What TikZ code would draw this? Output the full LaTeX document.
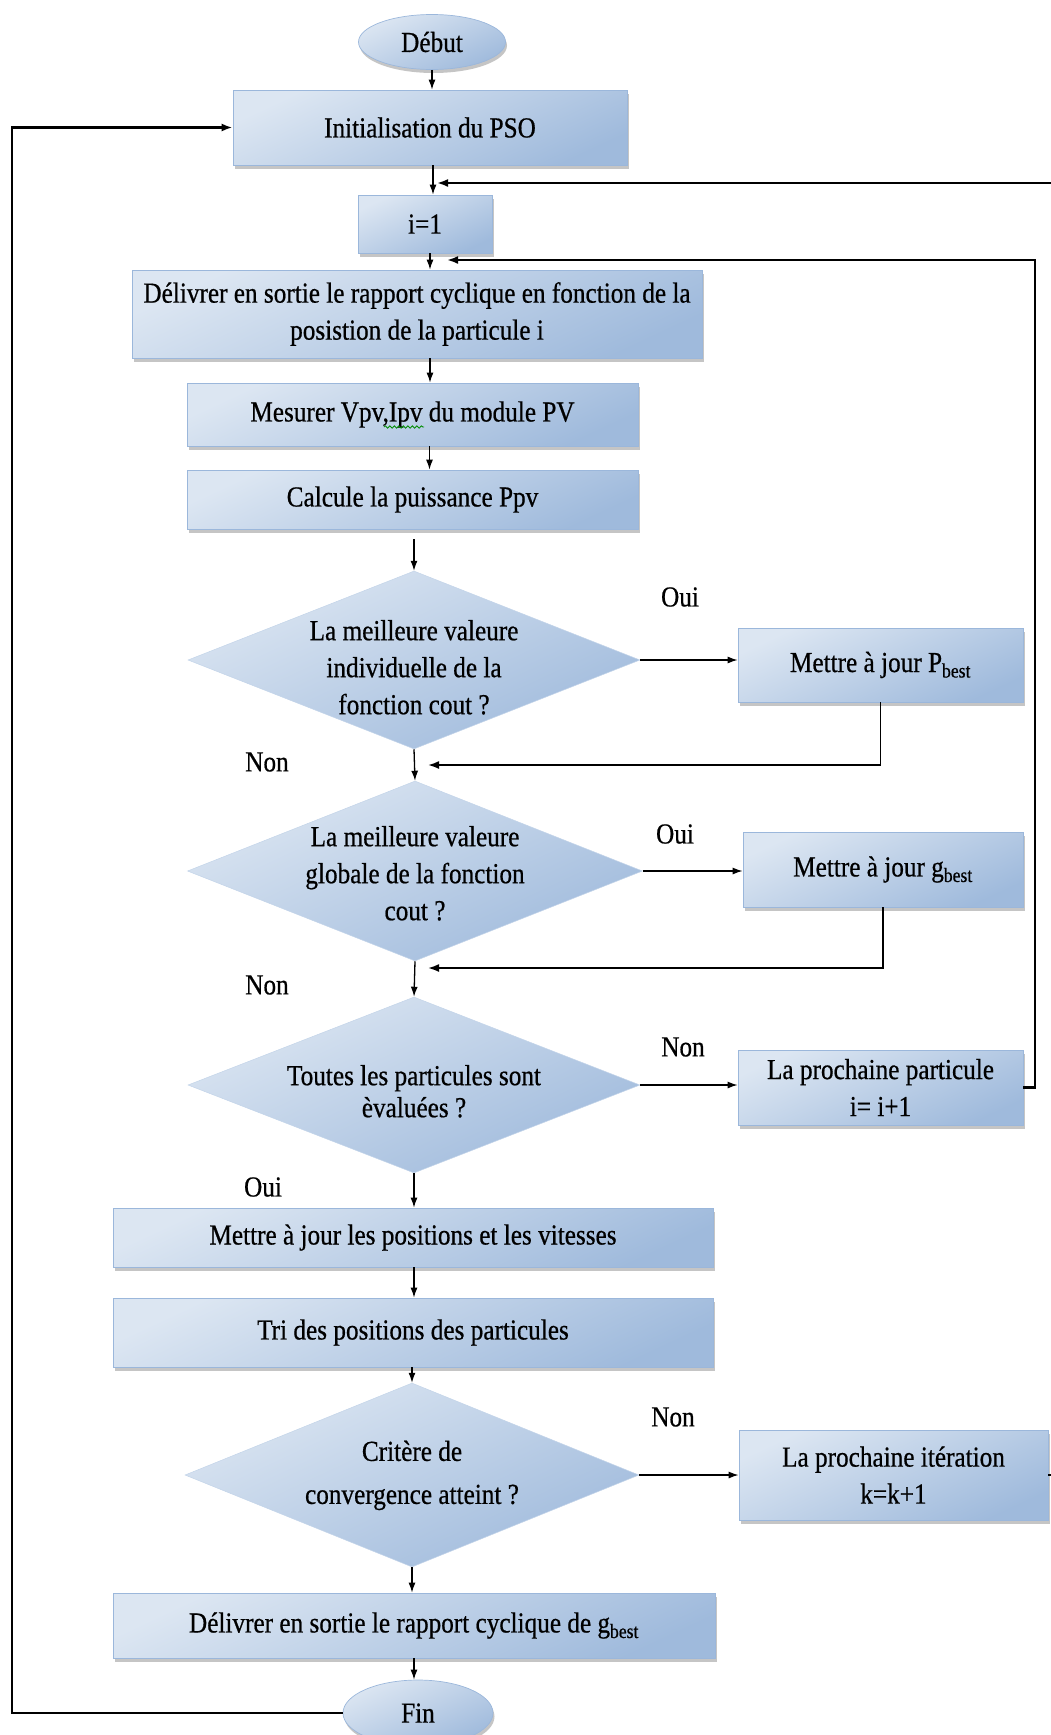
\documentclass[tikz,border=0pt]{standalone}
\usepackage{fontspec}
\setmainfont{Liberation Serif}[FakeStretch=0.87,FakeBold=0.6]
\usetikzlibrary{arrows.meta,shapes.geometric,shadows,decorations.pathmorphing}

\definecolor{bL}{HTML}{DCE6F2}
\definecolor{bD}{HTML}{9FBADC}
\definecolor{bE}{HTML}{9BB7DB}

\newcommand\dt[2][0pt]{\smash{\raisebox{#1}{\makebox[0pt]{\begin{tabular}{@{}c@{}}#2\end{tabular}}}}}

\begin{document}
\begin{tikzpicture}[x=1pt,y=-1pt,
  every node/.style={font=\fontsize{29}{37}\selectfont, text=black},
  base/.style={top color=bL, bottom color=bD, shading angle=25},
  shad/.style={drop shadow={shadow xshift=1.5pt,shadow yshift=-3.5pt,fill=black!45,opacity=0.5}},
  box/.style 2 args={rectangle, base, draw=bE, line width=0.7pt, minimum width=#1, minimum height=#2, inner sep=0pt, align=center, shad},
  dia/.style 2 args={diamond, base, draw=bE!60!white, line width=0.5pt, minimum width=#1, minimum height=#2, inner sep=0pt},
  oval/.style 2 args={ellipse, base, draw=bE, line width=0.7pt, minimum width=#1, minimum height=#2, inner sep=0pt, shad},
  arr/.style={-{Latex[length=10pt,width=7pt]}, line width=1.3pt},
  back/.style={-{Latex[length=11pt,width=8pt]}, line width=2.2pt},
  ret/.style={-{Latex[length=11pt,width=8pt]}, line width=1.8pt},
  lbl/.style={inner sep=0pt}
]
\useasboundingbox (0,0) rectangle (1050,1735);

% nodes
\node[oval={147pt}{55pt}] (debut) at (432,42) {Début};
\node[box={394pt}{75pt}] (init) at (430,127.5) {Initialisation du PSO};
\node[box={134pt}{58pt}] (i1) at (425,224) {i=1};
\node[box={570pt}{88pt}] (deliv) at (417,314) {Délivrer en sortie le rapport cyclique en fonction de la\\posistion de la particule i};
\node[box={451pt}{63pt}] (mes) at (412.5,414.5) {Mesurer Vpv,Ipv du module PV};
\node[box={451pt}{59pt}] (calc) at (412.5,499.5) {Calcule la puissance Ppv};
\node[dia={452pt}{178pt}] (d1) at (414,660) {\dt[-16pt]{La meilleure valeure\\individuelle de la\\fonction cout ?}};
\node[box={285pt}{74pt}] (pb) at (880.5,665) {Mettre à jour P\textsubscript{best}};
\node[dia={455pt}{180pt}] (d2) at (415,871) {\dt[-11pt]{La meilleure valeure\\globale de la fonction\\cout ?}};
\node[box={280pt}{75pt}] (gb) at (883,869.5) {Mettre à jour g\textsubscript{best}};
\node[dia={452pt}{176pt}] (d3) at (414,1085) {\fontsize{29}{32}\selectfont\dt[-16pt]{Toutes les particules sont\\èvaluées ?}};
\node[box={285pt}{75pt}] (pp) at (880.5,1087.5) {La prochaine particule\\i= i+1};
\node[box={600pt}{59pt}] (maj) at (413,1237.5) {Mettre à jour les positions et les vitesses};
\node[box={600pt}{69pt}] (tri) at (413,1332.5) {Tri des positions des particules};
\node[dia={454pt}{184pt}] (d4) at (412,1475) {\fontsize{29}{43}\selectfont\dt[-5pt]{Critère de\\convergence atteint ?}};
\node[box={309pt}{90pt}] (kb) at (893.5,1475) {La prochaine itération\\k=k+1};
\node[box={602pt}{65pt}] (dg) at (414,1625.5) {Délivrer en sortie le rapport cyclique de g\textsubscript{best}};
\node[oval={150pt}{66pt}] (fin) at (418,1713) {Fin};

% labels
\node[lbl] (oui1) at (680,597) {Oui};
\node[lbl] (non1) at (267,762) {Non};
\node[lbl] (oui2) at (675,834) {Oui};
\node[lbl] (non2) at (267,985) {Non};
\node[lbl] (non3) at (683,1047) {Non};
\node[lbl] (oui3) at (263,1187) {Oui};
\node[lbl] (non4) at (673,1417) {Non};

% spell-check underline
\draw[green!55!black, line width=0.8pt, decorate, decoration={snake, amplitude=1.2pt, segment length=4.5pt}] (384,427) -- (424,427);

% merge coordinates
\coordinate (m1) at (437,183);
\coordinate (m2) at (447,260);
\coordinate (m3) at (428,765);
\coordinate (m4) at (428,968);
\coordinate (r2) at (1035,260);
\coordinate (lt) at (12,127.5);

% main arrows
\draw[arr] (debut.south) -- (debut.south |- init.north);
\draw[arr] ([xshift=3pt]init.south) -- ([xshift=3pt]init.south |- i1.north);
\draw[arr] ([xshift=5pt]i1.south) -- ([xshift=5pt]i1.south |- deliv.north);
\draw[arr] ([xshift=13pt]deliv.south) -- ([xshift=13pt]deliv.south |- mes.north);
\draw[arr] ([xshift=17pt]mes.south) -- ([xshift=17pt]mes.south |- calc.north);
\draw[arr, shorten <=10pt] (calc.south -| d1.north) -- (d1.north);
\draw[arr] (d1.south) -- (d2.north);
\draw[arr] (d2.south) -- (d3.north);
\draw[arr] (d3.south) -- (d3.south |- maj.north);
\draw[arr] (maj.south -| d3.south) -- (d3.south |- tri.north);
\draw[arr] (tri.south -| d4.north) -- (d4.north);
\draw[arr] (d4.south) -- (d4.south |- dg.north);
\draw[arr] (dg.south) -- (dg.south |- fin.north);

% branches
\draw[arr] (d1.east) -- (d1.east -| pb.west);
\draw[arr] (d2.east) -- (d2.east -| gb.west);
\draw[arr] (d3.east) -- (d3.east -| pp.west);
\draw[arr] (d4.east) -- (d4.east -| kb.west);

% returns
\draw[ret] (pb.south) |- (m3);
\draw[ret] (gb.south) |- (m4);
\draw[back] (pp.east) -| (r2) -- (m2);
\draw[back] (kb.east) -- ++(20,0) |- (m1);
\draw[back] (fin.west) -| (lt) -- (init.west);
\end{tikzpicture}
\end{document}
